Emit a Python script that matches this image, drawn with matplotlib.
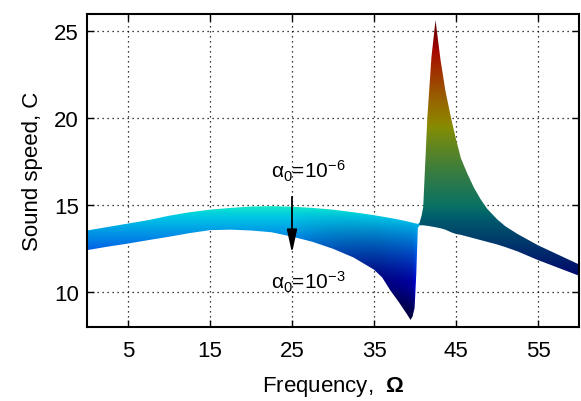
import numpy as np
import matplotlib
matplotlib.use('Agg')
import matplotlib.pyplot as plt
from matplotlib.colors import Normalize
from matplotlib.patches import Polygon

plt.rcParams['font.family'] = ['Liberation Sans', 'DejaVu Sans']
plt.rcParams['mathtext.fontset'] = 'custom'
plt.rcParams['mathtext.rm'] = 'Liberation Sans'
plt.rcParams['mathtext.it'] = 'Liberation Sans:italic'
plt.rcParams['mathtext.bf'] = 'Liberation Sans:bold'

# frequency samples and the two visible edges of the surface
omega = [0, 2.5, 5, 7.5, 10, 12.5, 15, 17.5, 20, 22.5, 25, 27.5, 30, 32.5, 35,
         36, 37, 38, 38.5, 39, 39.45, 39.7, 39.95, 40.15, 40.35, 40.55, 40.8,
         41.0, 41.5, 42.0, 42.5, 43.1, 43.7, 44.4, 45.0, 45.6, 46.4, 47.2, 48.0,
         48.8, 50, 51, 52.5, 55, 57.5, 60]
c_upper = [13.55, 13.75, 13.95, 14.15, 14.4, 14.6, 14.75, 14.85, 14.93, 14.95,
           14.92, 14.85, 14.75, 14.6, 14.43, 14.35, 14.27, 14.18, 14.13, 14.08,
           14.03, 14.0, 13.97, 13.95, 13.93, 14.0, 14.4, 14.9, 20.0, 23.5, 25.65,
           23.4, 21.6, 20.0, 18.8, 17.7, 16.8, 16.0, 15.35, 14.8, 14.2, 13.8,
           13.35, 12.7, 12.15, 11.6]
c_lower = [12.42, 12.62, 12.8, 13.0, 13.19, 13.4, 13.57, 13.6, 13.55, 13.45,
           13.2, 12.9, 12.5, 12.0, 11.3, 10.85, 10.1, 9.45, 9.1, 8.75, 8.41,
           8.6, 9.1, 11.0, 13.7, 13.85, 13.85, 13.85, 13.82, 13.78, 13.74, 13.68,
           13.6, 13.45, 13.35, 13.3, 13.2, 13.1, 13.0, 12.9, 12.75, 12.6, 12.35,
           11.85, 11.4, 10.95]

x_ticks = [5, 15, 25, 35, 45, 55]
y_ticks = [10, 15, 20, 25]

fig = plt.figure(figsize=(5.81, 4.02), dpi=100)
ax = fig.add_axes([0.1497, 0.184, 0.8469, 0.7787])
ax.set_xlim(0, 60)
ax.set_ylim(8, 26)

# colour the band like a lit jet surface: colour from C, brightness from position
xs = np.linspace(0, 60, 1200)
ys = np.linspace(8, 26, 720)
X, Y = np.meshgrid(xs, ys)
up = np.interp(xs, omega, c_upper)[None, :]
lo = np.interp(xs, omega, c_lower)[None, :]
t = np.clip((up - Y) / np.maximum(up - lo, 1e-6), 0, 1)
norm = Normalize(min(c_lower), max(c_upper))
rgb = plt.get_cmap('jet')(norm(Y))[..., :3]
s = np.interp(xs, [0, 25, 38, 39.6, 40.1, 40.45], [0, 0, 1, 1, 0, 0])[None, :]
b_left = 0.9 * (1 - 0.5 * t * s)
b_right = 0.42 + 0.28 * np.clip((Y - 14) / 11.6, 0, 1)
b = np.where(X < 40.45, b_left, b_right)
rgb = rgb * b[..., None]

im = ax.imshow(rgb, extent=[0, 60, 8, 26], origin='lower', aspect='auto',
               interpolation='bilinear', zorder=2)
verts = list(zip(omega, c_upper)) + list(zip(omega[::-1], c_lower[::-1]))
band = Polygon(verts, closed=True, transform=ax.transData)
im.set_clip_path(band)

ax.set_xticks(x_ticks)
ax.set_yticks(y_ticks)
ax.set_axisbelow(True)
ax.grid(True, linestyle=(0, (1, 3)), color='k', linewidth=0.9)
ax.tick_params(direction='in', top=True, right=True, length=5, width=1,
               labelsize=16, pad=6)
ax.tick_params(axis='x', pad=9)
for sp in ax.spines.values():
    sp.set_linewidth(1.5)
    sp.set_zorder(5)

ax.set_xlabel(r'Frequency,  $\mathbf{\Omega}$', fontsize=16, labelpad=10)
ax.set_ylabel('Sound speed, C', fontsize=16, labelpad=8)

ax.annotate('', xy=(25, 12.1), xytext=(25, 15.65),
            arrowprops=dict(arrowstyle='-|>,head_length=1.0,head_width=0.22',
                            color='k', lw=1.3, mutation_scale=14), zorder=6)
ax.text(22.4, 17.0, r'$\mathregular{\alpha_0}$=10$^{\mathregular{-6}}$',
        fontsize=15, va='center', ha='left', zorder=6)
ax.text(22.4, 10.6, r'$\mathregular{\alpha_0}$=10$^{\mathregular{-3}}$',
        fontsize=15, va='center', ha='left', zorder=6)

plt.savefig('out.png', dpi=100)
